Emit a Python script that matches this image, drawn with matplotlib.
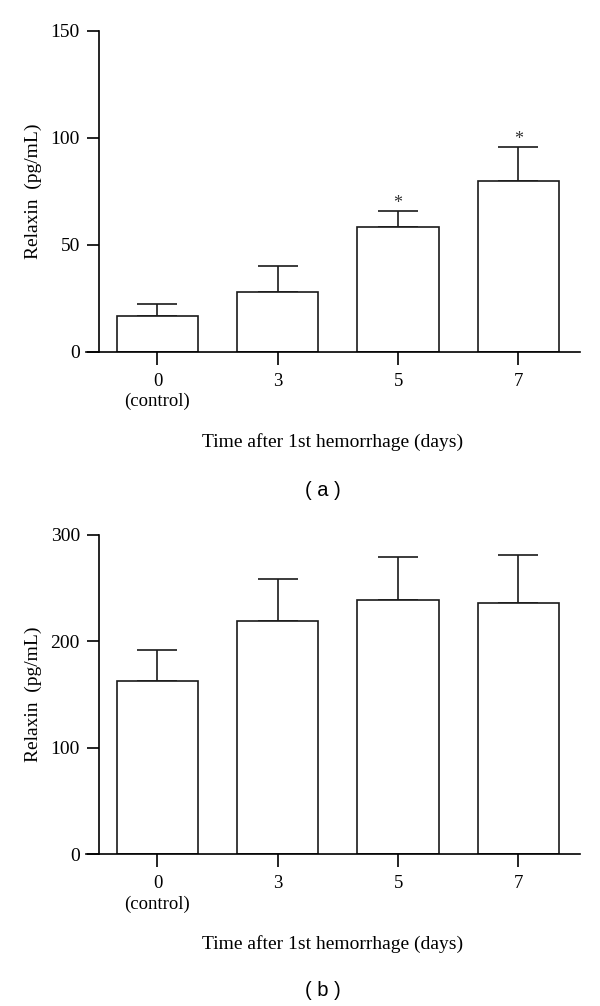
import matplotlib
matplotlib.use('Agg')
import matplotlib.pyplot as plt
import numpy as np

# data
days = ['0\n(control)', '3', '5', '7']
relaxin_a = [17.0, 28.0, 58.5, 80.0]
sem_a = [5.2, 12.2, 7.4, 16.0]
sig_a = [False, False, True, True]

relaxin_b = [162.5, 219.0, 238.5, 235.5]
sem_b = [29.0, 39.5, 40.5, 45.0]

plt.rcParams['font.family'] = ['Liberation Serif', 'DejaVu Serif']
plt.rcParams['axes.linewidth'] = 1.2

fig = plt.figure(figsize=(6, 10.06), dpi=100)

def draw_panel(ax, vals, errs, ymax, yticks, stars=None):
    x = np.arange(len(vals))
    ax.bar(x, vals, width=0.676, color='white', edgecolor='#1a1a1a',
           linewidth=1.2, zorder=2)
    ax.errorbar(x, vals, yerr=[np.zeros(len(errs)), errs], fmt='none',
                ecolor='#1a1a1a', elinewidth=1.2, capsize=14.5,
                capthick=1.2, zorder=1)
    if stars is not None:
        for xi, v, e, s in zip(x, vals, errs, stars):
            if s:
                ax.annotate('*', (xi, v + e), xytext=(0, -1),
                            textcoords='offset points', ha='center',
                            va='bottom', fontsize=13, color='#333333')
    ax.set_xlim(-0.597, 3.512)
    ax.set_ylim(0, ymax)
    ax.set_yticks(yticks)
    ax.set_xticks(x)
    ax.set_xticklabels(days, fontsize=13.5, linespacing=1.25)
    ax.tick_params(axis='y', labelsize=14, length=9, width=1.2,
                   direction='out', pad=5)
    ax.tick_params(axis='x', length=9, width=1.2, direction='out', pad=6)
    ax.spines['top'].set_visible(False)
    ax.spines['right'].set_visible(False)
    ax.spines['left'].set_position(('data', -0.484))
    ax.spines['left'].set_bounds(0, ymax)
    ax.set_ylabel('Relaxin  (pg/mL)', fontsize=14, labelpad=6)
    ax.set_xlabel('Time after 1st hemorrhage (days)', fontsize=14,
                  labelpad=16)

ax1 = fig.add_axes([0.1428, 0.6501, 0.8238, 0.3191])
draw_panel(ax1, relaxin_a, sem_a, 150, [0, 50, 100, 150], sig_a)

ax2 = fig.add_axes([0.1428, 0.1508, 0.8238, 0.3177])
draw_panel(ax2, relaxin_b, sem_b, 300, [0, 100, 200, 300])

fig.text(0.538, 1 - 490 / 1006, '( a )', ha='center', va='center',
         fontsize=14.5, family='Liberation Sans')
fig.text(0.538, 1 - 990 / 1006, '( b )', ha='center', va='center',
         fontsize=14.5, family='Liberation Sans')

fig.savefig('out.png', dpi=100)
